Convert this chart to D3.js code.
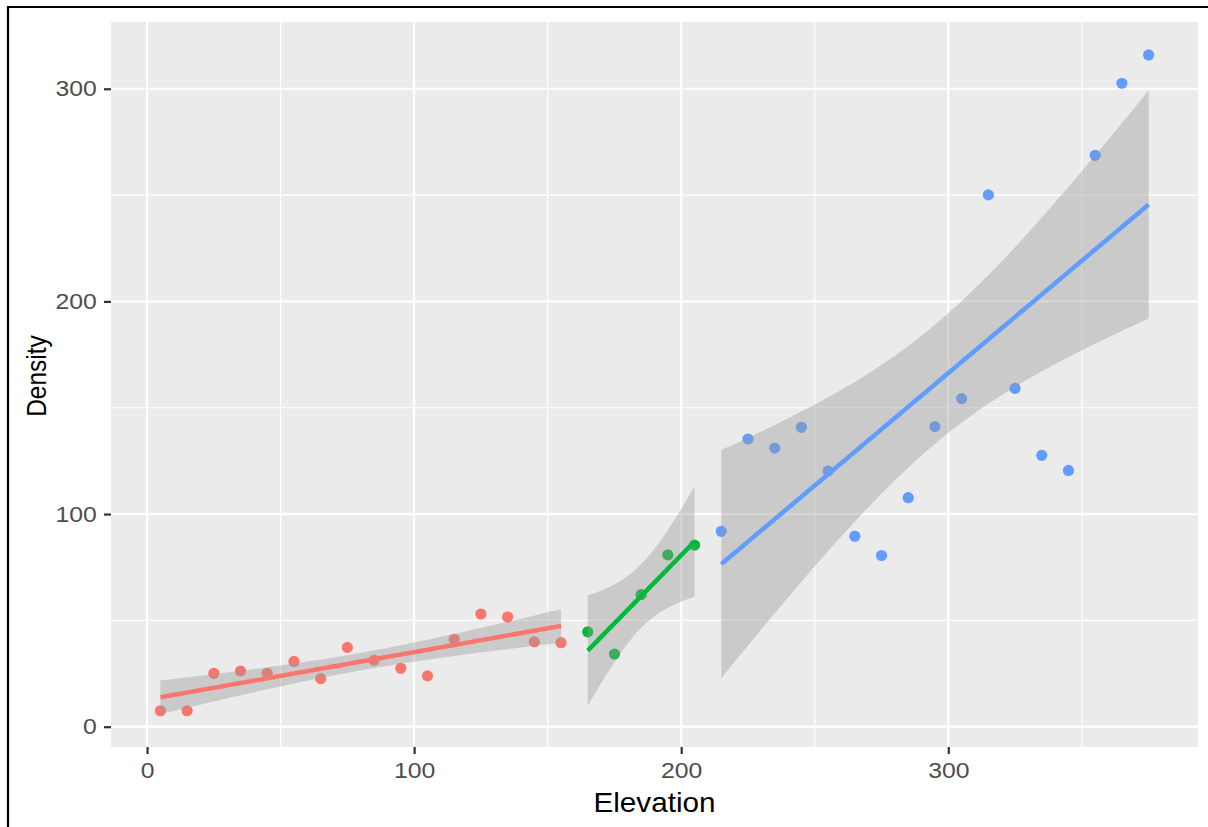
<!DOCTYPE html>
<html>
<head>
<meta charset="utf-8">
<script src="https://cdn.jsdelivr.net/npm/d3@7"></script>
<style>
  html, body { margin: 0; padding: 0; background: #ffffff; }
  svg { display: block; }
  text { font-family: "Liberation Sans", Arial, sans-serif; }
</style>
</head>
<body>
<svg id="chart" width="1208" height="827"></svg>
<script>
// ---- data ----
const redElevation   = [5, 15, 25, 35, 45, 55, 65, 75, 85, 95, 105, 115, 125, 135, 145, 155];
const redDensity     = [7.5, 7.5, 25.1, 26.2, 25.1, 30.7, 22.6, 37.3, 31.2, 27.5, 23.9, 41.1, 53.0, 51.6, 39.9, 39.5];
const greenElevation = [165, 175, 185, 195, 205];
const greenDensity   = [44.6, 34.2, 62.1, 80.8, 85.4];
const blueElevation  = [215, 225, 235, 245, 255, 265, 275, 285, 295, 305, 315, 325, 335, 345, 355, 365, 375];
const blueDensity    = [91.9, 135.3, 131.0, 140.8, 120.2, 89.6, 80.5, 107.7, 141.1, 154.3, 250.1, 159.1, 127.6, 120.5, 268.7, 302.6, 315.9];
const groupColors    = ["#F8766D", "#00BA38", "#619CFF"];
// Student t 0.975 quantiles for df = n - 2 of each group
const tQuantiles     = [2.1448, 3.1824, 2.1314];
const xTicks = [0, 100, 200, 300];
const yTicks = [0, 100, 200, 300];
const xMinor = [50, 150, 250, 350];
const yMinor = [50, 150, 250];
const xTitle = "Elevation";
const yTitle = "Density";

// ---- linear model with 95% confidence band (like geom_smooth(method = "lm")) ----
function lmBand(xs, ys, tq) {
  const n = xs.length;
  const mx = d3.mean(xs), my = d3.mean(ys);
  let sxx = 0, sxy = 0;
  xs.forEach((x, i) => { sxx += (x - mx) ** 2; sxy += (x - mx) * (ys[i] - my); });
  const b = sxy / sxx, a = my - b * mx;
  let sse = 0;
  xs.forEach((x, i) => { sse += (ys[i] - a - b * x) ** 2; });
  const s = Math.sqrt(sse / (n - 2));
  const lo = d3.min(xs), hi = d3.max(xs);
  const grid = d3.range(80).map(i => lo + (hi - lo) * i / 79);
  return grid.map(x => {
    const fit = a + b * x;
    const se = s * Math.sqrt(1 / n + (x - mx) ** 2 / sxx);
    return { x, fit, lo: fit - tq * se, hi: fit + tq * se };
  });
}

const groups = [
  { xs: redElevation, ys: redDensity },
  { xs: greenElevation, ys: greenDensity },
  { xs: blueElevation, ys: blueDensity }
].map((g, i) => ({ ...g, color: groupColors[i], band: lmBand(g.xs, g.ys, tQuantiles[i]) }));

// ---- layout ----
const panel = { left: 111, top: 22, right: 1198, bottom: 747 };
const svg = d3.select("#chart");

// outer frame (only left and top edges visible)
svg.append("path").attr("d", "M8,827 L8,7 L1208,7")
  .attr("fill", "none").attr("stroke", "#000").attr("stroke-width", 2.2);

// scales with ggplot-style 5% expansion
const allX = groups.flatMap(g => g.xs);
const allY = groups.flatMap(g => g.ys.concat(g.band.map(d => d.lo), g.band.map(d => d.hi)));
function expand(ext) { const r = ext[1] - ext[0]; return [ext[0] - 0.05 * r, ext[1] + 0.05 * r]; }
const x = d3.scaleLinear().domain(expand(d3.extent(allX))).range([panel.left, panel.right]);
const y = d3.scaleLinear().domain(expand(d3.extent(allY))).range([panel.bottom, panel.top]);

// panel background + grid
svg.append("rect").attr("x", panel.left).attr("y", panel.top)
  .attr("width", panel.right - panel.left).attr("height", panel.bottom - panel.top)
  .attr("fill", "#EBEBEB");
const grid = svg.append("g");
grid.selectAll(".xminor").data(xMinor).join("line")
  .attr("x1", d => x(d)).attr("x2", d => x(d)).attr("y1", panel.top).attr("y2", panel.bottom)
  .attr("stroke", "#fff").attr("stroke-width", 1.1);
grid.selectAll(".yminor").data(yMinor).join("line")
  .attr("y1", d => y(d)).attr("y2", d => y(d)).attr("x1", panel.left).attr("x2", panel.right)
  .attr("stroke", "#fff").attr("stroke-width", 1.1);
grid.selectAll(".xmajor").data(xTicks).join("line")
  .attr("x1", d => x(d)).attr("x2", d => x(d)).attr("y1", panel.top).attr("y2", panel.bottom)
  .attr("stroke", "#fff").attr("stroke-width", 2.2);
grid.selectAll(".ymajor").data(yTicks).join("line")
  .attr("y1", d => y(d)).attr("y2", d => y(d)).attr("x1", panel.left).attr("x2", panel.right)
  .attr("stroke", "#fff").attr("stroke-width", 2.2);

// points
const pts = svg.append("g");
groups.forEach(g => {
  pts.selectAll(null).data(g.xs.map((v, i) => [v, g.ys[i]])).join("circle")
    .attr("cx", d => x(d[0])).attr("cy", d => y(d[1])).attr("r", 5.6)
    .attr("fill", g.color);
});

// ribbons + fitted lines
const area = d3.area().x(d => x(d.x)).y0(d => y(d.lo)).y1(d => y(d.hi));
const line = d3.line().x(d => x(d.x)).y(d => y(d.fit));
groups.forEach(g => {
  svg.append("path").attr("d", area(g.band)).attr("fill", "#999999").attr("fill-opacity", 0.4);
});
groups.forEach(g => {
  svg.append("path").attr("d", line(g.band)).attr("fill", "none")
    .attr("stroke", g.color).attr("stroke-width", 4.5).attr("stroke-linecap", "butt");
});

// axes
const sx = 1.1;
const xAxis = svg.append("g").attr("transform", `translate(0,${panel.bottom})`)
  .call(d3.axisBottom(x).tickValues(xTicks).tickSize(7).tickPadding(8).tickFormat(d3.format("d")));
const yAxis = svg.append("g").attr("transform", `translate(${panel.left},0)`)
  .call(d3.axisLeft(y).tickValues(yTicks).tickSize(7).tickPadding(5).tickFormat(d3.format("d")));
[xAxis, yAxis].forEach(a => {
  a.select(".domain").remove();
  a.selectAll(".tick line").attr("stroke", "#333333").attr("stroke-width", 2.2);
  a.selectAll(".tick text").attr("fill", "#4D4D4D").attr("font-size", 22.5)
    .attr("font-family", "Liberation Sans, Arial, sans-serif");
});
xAxis.selectAll(".tick text").attr("transform", `scale(${sx},1)`);
yAxis.selectAll(".tick text").attr("transform", `translate(-1,0) scale(${sx},1)`);

// axis titles
svg.append("text").attr("transform", `translate(${(panel.left + panel.right) / 2},812) scale(${sx},1)`)
  .attr("text-anchor", "middle").attr("font-size", 27).attr("fill", "#000").text(xTitle);
svg.append("text").attr("transform", `translate(46,376) scale(1.15,1) rotate(-90)`)
  .attr("text-anchor", "middle").attr("font-size", 24.5).attr("fill", "#000").text(yTitle);
</script>
</body>
</html>
